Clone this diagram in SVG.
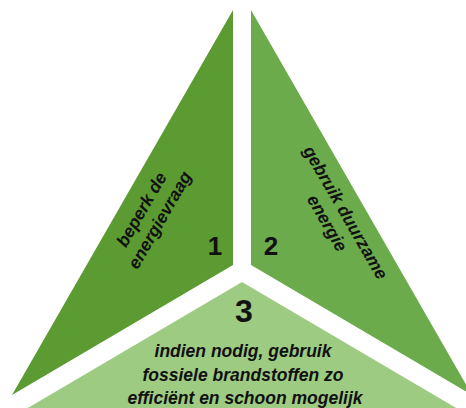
<svg xmlns="http://www.w3.org/2000/svg" width="466" height="408" viewBox="0 0 466 408">
<style>
.lbl{font-family:"Liberation Sans","DejaVu Sans",sans-serif;font-weight:700;font-style:italic;font-size:17.5px;fill:#111;text-anchor:middle}
.num{font-family:"Liberation Sans","DejaVu Sans",sans-serif;font-weight:700;fill:#111;text-anchor:middle}
</style>
<rect width="466" height="408" fill="#fff"/>
<g id="node-1">
<polygon points="233,10 233,265 12,395" fill="#5c9b31"/>
<g transform="translate(151,215) rotate(-60)">
<text class="lbl" x="0" y="-5">beperk de</text>
<text class="lbl" x="0" y="16">energievraag</text>
</g>
<text class="num" x="215" y="255" font-size="26">1</text>
</g>
<g id="node-2">
<polygon points="251,10 251,265 472,395" fill="#6cab4c"/>
<g transform="translate(336,218) rotate(60)">
<text class="lbl" x="0" y="-5">gebruik duurzame</text>
<text class="lbl" x="0" y="16">energie</text>
</g>
<text class="num" x="271" y="255" font-size="26">2</text>
</g>
<g id="node-3">
<polygon points="242,282 -30,442 514,442" fill="#9ecb82"/>
<text class="num" x="244" y="322" font-size="32">3</text>
<text class="lbl" x="243" y="357">indien nodig, gebruik</text>
<text class="lbl" x="243" y="381">fossiele brandstoffen zo</text>
<text class="lbl" x="245" y="404">efficiënt en schoon mogelijk</text>
</g>
</svg>
